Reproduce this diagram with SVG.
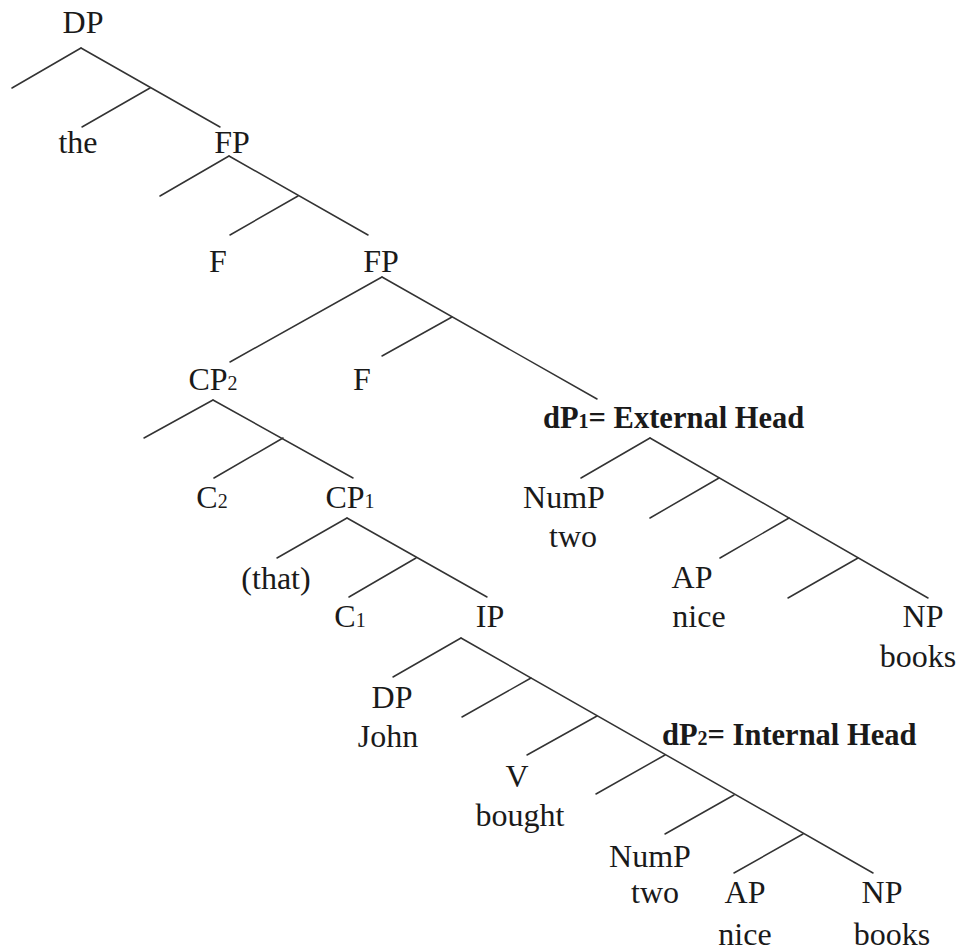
<svg xmlns="http://www.w3.org/2000/svg" width="960" height="951" viewBox="0 0 960 951">
<style>
  text { font-family: "Liberation Serif", "DejaVu Serif", serif; font-size: 32px; fill: #1a1a1a; text-anchor: middle; }
  .b { font-weight: bold; font-size: 30.5px; text-anchor: start; }
  .s { font-size: 20px; }
  .e line { stroke: #333; stroke-width: 1.5; stroke-linecap: round; }
</style>
<rect width="960" height="951" fill="#fff"/>
<g id="edges" class="e">
  <line x1="81" y1="48" x2="12" y2="88"/>
  <line x1="81" y1="48" x2="220" y2="127"/>
  <line x1="150" y1="88" x2="82" y2="127"/>
  <line x1="229" y1="156" x2="160" y2="196"/>
  <line x1="229" y1="156" x2="368" y2="235"/>
  <line x1="298" y1="196" x2="230" y2="235"/>
  <line x1="382" y1="277" x2="230" y2="362"/>
  <line x1="382" y1="277" x2="597" y2="399"/>
  <line x1="452" y1="317" x2="382" y2="356"/>
  <line x1="213" y1="400" x2="144" y2="438"/>
  <line x1="213" y1="400" x2="353" y2="478"/>
  <line x1="283" y1="438" x2="214" y2="478"/>
  <line x1="347" y1="518" x2="277" y2="558"/>
  <line x1="347" y1="518" x2="487" y2="597"/>
  <line x1="416" y1="558" x2="349" y2="597"/>
  <line x1="650" y1="438" x2="581" y2="478"/>
  <line x1="650" y1="438" x2="928" y2="598"/>
  <line x1="719" y1="478" x2="650" y2="518"/>
  <line x1="789" y1="518" x2="720" y2="558"/>
  <line x1="858" y1="558" x2="788" y2="598"/>
  <line x1="461" y1="638" x2="393" y2="677"/>
  <line x1="461" y1="638" x2="873" y2="873"/>
  <line x1="531" y1="678" x2="462" y2="717"/>
  <line x1="597" y1="716" x2="527" y2="755"/>
  <line x1="665" y1="755" x2="596" y2="794"/>
  <line x1="734" y1="795" x2="665" y2="834"/>
  <line x1="803" y1="834" x2="734" y2="873"/>
</g>
<g id="n-dp-root"><text x="83" y="33">DP</text></g>
<g id="n-the"><text x="78" y="153">the</text></g>
<g id="n-fp1"><text x="232" y="153">FP</text></g>
<g id="n-f1"><text x="218" y="272">F</text></g>
<g id="n-fp2"><text x="381" y="272">FP</text></g>
<g id="n-cp2"><text x="213" y="390">CP<tspan class="s">2</tspan></text></g>
<g id="n-f2"><text x="362" y="390">F</text></g>
<g id="n-dp1"><text class="b" x="543" y="428">dP<tspan class="s">1</tspan>= External Head</text></g>
<g id="n-c2"><text x="212" y="508">C<tspan class="s">2</tspan></text></g>
<g id="n-cp1"><text x="350" y="508">CP<tspan class="s">1</tspan></text></g>
<g id="n-nump1"><text x="564" y="508">NumP</text><text x="573" y="547">two</text></g>
<g id="n-that"><text x="276" y="589">(that)</text></g>
<g id="n-ap1"><text x="692" y="588">AP</text><text x="699" y="627">nice</text></g>
<g id="n-c1"><text x="350" y="627">C<tspan class="s">1</tspan></text></g>
<g id="n-ip"><text x="490" y="627">IP</text></g>
<g id="n-np1"><text x="923" y="627">NP</text><text x="918" y="667">books</text></g>
<g id="n-dp-john"><text x="392" y="708">DP</text><text x="388" y="747">John</text></g>
<g id="n-dp2"><text class="b" x="662" y="745">dP<tspan class="s">2</tspan>= Internal Head</text></g>
<g id="n-v"><text x="517" y="787">V</text><text x="520" y="826">bought</text></g>
<g id="n-nump2"><text x="650" y="867">NumP</text><text x="655" y="903">two</text></g>
<g id="n-ap2"><text x="745" y="903">AP</text><text x="745" y="945">nice</text></g>
<g id="n-np2"><text x="882" y="903">NP</text><text x="892" y="945">books</text></g>
</svg>
